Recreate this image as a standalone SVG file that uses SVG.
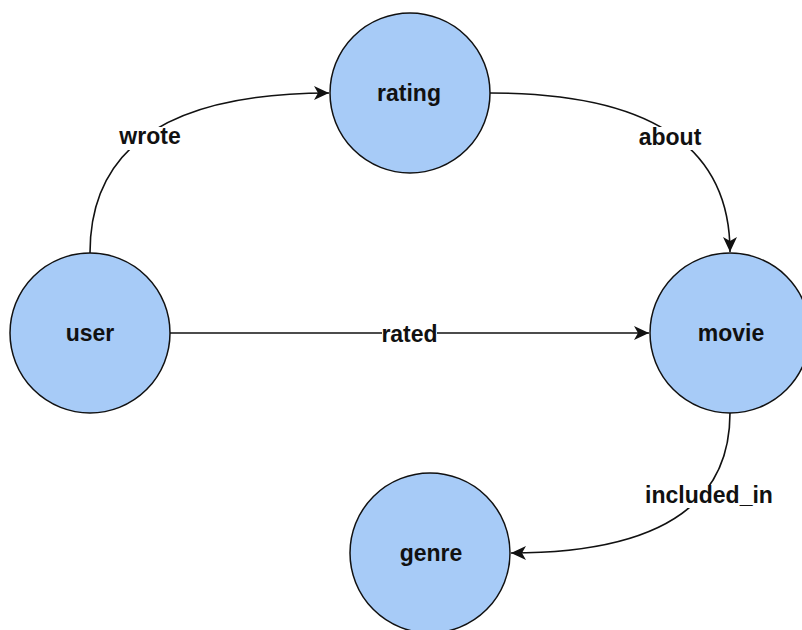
<svg xmlns="http://www.w3.org/2000/svg" width="802" height="630" viewBox="0 0 802 630">
<style>
.node{fill:#a7cbf7;stroke:#111;stroke-width:1.5}
.t{font-family:"Liberation Sans",Arial,Helvetica,sans-serif;font-weight:bold;font-size:23px;fill:#111;text-anchor:middle}
.e{fill:none;stroke:#111;stroke-width:1.6}
.bg{fill:#fff}
</style>
<defs>
<marker id="arr" markerUnits="userSpaceOnUse" markerWidth="16" markerHeight="14" refX="15" refY="7" orient="auto" viewBox="0 0 16 14">
<path d="M0,0 L15,7 L0,14 L4,7 Z" fill="#111"/>
</marker>
</defs>
<rect width="802" height="630" fill="#fff"/>
<g id="edges">
<path class="e" d="M90,253 Q90,93 329,93" marker-end="url(#arr)"/>
<path class="e" d="M490,93 Q730,93 730,252" marker-end="url(#arr)"/>
<path class="e" d="M170,333 L649,333" marker-end="url(#arr)"/>
<path class="e" d="M730,413 Q730,553 511,553" marker-end="url(#arr)"/>
<rect class="bg" x="118" y="127" width="64" height="23"/>
<text class="t" x="150" y="144">wrote</text>
<rect class="bg" x="637" y="127" width="65" height="23"/>
<text class="t" x="670" y="145">about</text>
<rect class="bg" x="382" y="325" width="55" height="22"/>
<text class="t" x="409.5" y="342">rated</text>
<rect class="bg" x="643" y="485" width="132" height="23"/>
<text class="t" x="709" y="503">included_in</text>
</g>
<g id="node-rating">
<circle class="node" cx="410" cy="93" r="80"/>
<text class="t" x="409" y="101">rating</text>
</g>
<g id="node-user">
<circle class="node" cx="90" cy="333" r="80"/>
<text class="t" x="90" y="341">user</text>
</g>
<g id="node-movie">
<circle class="node" cx="730" cy="333" r="80"/>
<text class="t" x="731" y="341">movie</text>
</g>
<g id="node-genre">
<circle class="node" cx="430" cy="553" r="80"/>
<text class="t" x="431" y="561">genre</text>
</g>
</svg>
